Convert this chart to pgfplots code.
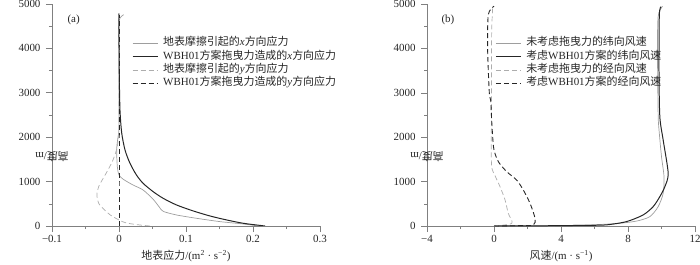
\documentclass[border=0pt]{standalone}
\usepackage{pgfplots}
\pgfplotsset{compat=1.18}
\usepackage{fontspec}
\setmainfont{Liberation Serif}
\newfontfamily\cjk{Noto Sans CJK SC}
\definecolor{axgray}{gray}{0.5}
\definecolor{lgray}{gray}{0.62}
\definecolor{llgray}{gray}{0.68}
\definecolor{dk}{gray}{0.15}
\pgfplotsset{
  common/.style={
    scale only axis, width=268bp, height=222bp,
    ymin=0, ymax=5000,
    axis x line*=bottom, axis y line*=left,
    axis line style={-, draw=axgray, line width=0.6pt},
    tick align=outside, major tick length=6bp, minor tick length=3bp,
    minor x tick num=1, minor y tick num=1,
    tick style={draw=axgray, line width=0.6pt},
    ytick={0,1000,2000,3000,4000,5000},
    yticklabels={0,1000,2000,3000,4000,5000},
    ticklabel style={font=\fontsize{11}{12}\selectfont, text=black!85},
    yticklabel style={xshift=-2bp},
    label style={font=\fontsize{11}{12}\selectfont, text=black!85},
    xlabel style={at={(axis description cs:0.5,0)}, anchor=center, yshift=-30bp},
    ylabel style={at={(axis description cs:0,0.51)}, anchor=center, xshift=-44bp, rotate=90},
    legend cell align=left,
    legend image code/.code={\draw[##1] (0bp,0bp) -- (25bp,0bp);},
    legend style={draw=none, fill=none, inner sep=0pt, row sep=1.3bp,
      anchor=north west, font=\fontsize{11}{12}\selectfont, text=black!85,
      nodes={inner sep=0pt, text height=8.5bp, text depth=3.5bp},
      column sep=5bp},
  },
  gs/.style={lgray, line width=0.7pt, smooth, tension=0.45},
  bs/.style={dk, line width=1.0pt, smooth, tension=0.45},
  gd/.style={llgray, line width=0.7pt, dash pattern=on 5bp off 3bp, smooth, tension=0.45},
  bd/.style={dk, line width=0.9pt, dash pattern=on 5bp off 3bp, smooth, tension=0.45},
}
\begin{document}
\begin{tikzpicture}
\useasboundingbox (-52bp,-39bp) rectangle (648bp,226bp);
\begin{axis}[common, at={(0,0)}, anchor=south west,
  xmin=-0.1, xmax=0.3,
  xtick={-0.1,0,0.1,0.2,0.3}, xticklabels={−0.1,0,0.1,0.2,0.3},
  xlabel={{\cjk 地表应力}/(m\textsuperscript{2} · s\textsuperscript{−2})},
  ylabel={{\cjk 高度}/m},
  legend style={at={(0.2985,0.85)}},
]
\addplot[gs] coordinates {(0.208,0)(0.186,45)(0.151,98)(0.116,173)(0.086,248)(0.066,330)(0.06,430)(0.051,601)(0.036,811)(0.021,923)(0.0065,1051)(0,1149)(-0.0025,1336)(-0.0035,1711)(-0.002,1950)(0,2200)(0,3000)(0,4000)(0,4620)(0.007,4760)};
\addlegendentry{{\cjk 地表摩擦引起的}\textit{x}{\cjk 方向应力}}
\addplot[bs] coordinates {(0.218,0)(0.186,60)(0.161,135)(0.136,225)(0.111,338)(0.086,473)(0.066,623)(0.051,773)(0.036,961)(0.026,1150)(0.0164,1412)(0.009,1711)(0.004,2100)(0.0015,2600)(0.0005,3300)(0,4000)(0,4790)};
\addlegendentry{WBH01{\cjk 方案拖曳力造成的}\textit{x}{\cjk 方向应力}}
\addplot[gd] coordinates {(0.046,0)(0.03,25)(0.011,68)(0.0,135)(-0.013,248)(-0.022,370)(-0.03,500)(-0.033,700)(-0.03,900)(-0.019,1193)(-0.01,1450)(-0.004,1700)(-0.001,1950)(0,2300)(0,3000)(0,4000)(0,4750)};
\addlegendentry{{\cjk 地表摩擦引起的}\textit{y}{\cjk 方向应力}}
\addplot[bd, sharp plot] coordinates {(0,0)(0,1000)(0,2000)(0,3000)(0,4000)(0,4750)};
\addlegendentry{WBH01{\cjk 方案拖曳力造成的}\textit{y}{\cjk 方向应力}}
\node[anchor=west, font=\fontsize{11}{12}\selectfont, text=black!85] at (axis cs:-0.082,4640) {(a)};
\end{axis}
\begin{axis}[common, at={(375bp,0)}, anchor=south west,
  xmin=-4, xmax=12,
  xtick={-4,0,4,8,12}, xticklabels={−4,0,4,8,12},
  xlabel={{\cjk 风速}/(m · s\textsuperscript{−1})},
  ylabel={{\cjk 高度}/m},
  legend style={at={(0.254,0.85)}},
]
\addplot[gs] coordinates {(0,0)(3,5)(5.4,20)(7.3,55)(8.5,110)(9.3,210)(9.8,435)(10.1,736)(10.15,1111)(10.0,1561)(9.87,2087)(9.8,2500)(9.76,3975)(9.8,4725)(10.06,4950)};
\addlegendentry{{\cjk 未考虑拖曳力的纬向风速}}
\addplot[bs] coordinates {(0,0)(3,5)(5.5,15)(6.7,25)(7.9,98)(8.9,248)(9.5,435)(9.9,661)(10.2,886)(10.4,1186)(10.1,1936)(9.9,2462)(9.85,3500)(9.87,4750)(9.97,4939)};
\addlegendentry{{\cjk 考虑}WBH01{\cjk 方案的纬向风速}}
\addplot[gd] coordinates {(0,0)(1.06,61)(0.85,286)(0.66,586)(0.36,886)(0.06,1133)(-0.14,1336)(-0.16,1862)(-0.15,3000)(-0.14,4350)(-0.08,4912)};
\addlegendentry{{\cjk 未考虑拖曳力的经向风速}}
\addplot[bd] coordinates {(0,0)(1.5,8)(2.35,22)(2.45,173)(2.15,511)(1.75,811)(1.35,1036)(0.76,1223)(0.26,1448)(0,1711)(-0.08,2011)(-0.14,2387)(-0.2,2837)(-0.28,3000)(-0.38,3975)(-0.34,4762)(0,4950)};
\addlegendentry{{\cjk 考虑}WBH01{\cjk 方案的经向风速}}
\node[anchor=west, font=\fontsize{11}{12}\selectfont, text=black!85] at (axis cs:-3.34,4640) {(b)};
\end{axis}
\end{tikzpicture}
\end{document}
